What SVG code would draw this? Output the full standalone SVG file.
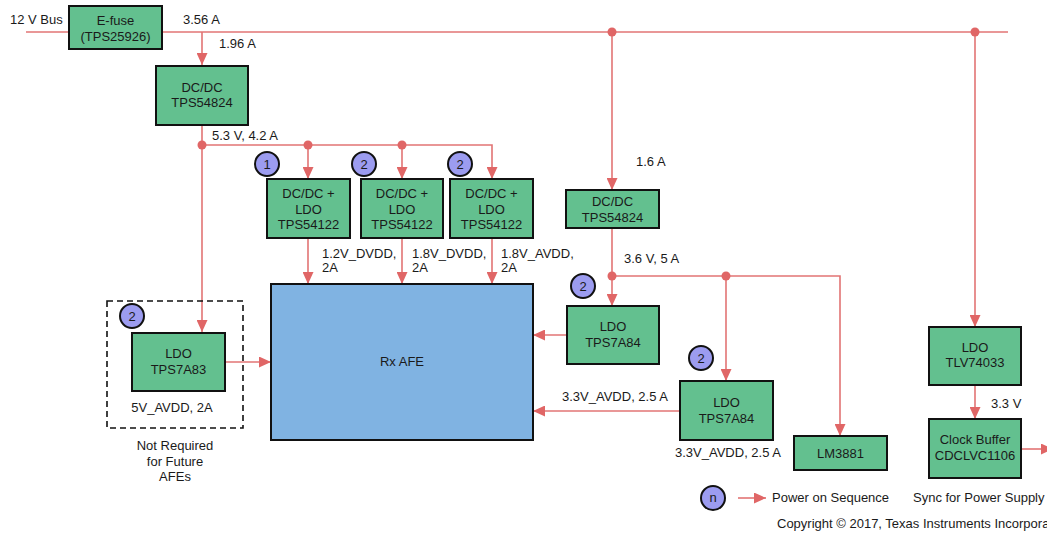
<svg xmlns="http://www.w3.org/2000/svg" width="1047" height="533" viewBox="0 0 1047 533">
<defs>
<marker id="ah" viewBox="0 0 12 11" refX="12" refY="5.5" markerWidth="12" markerHeight="11" markerUnits="userSpaceOnUse" orient="auto">
<path d="M0,0 L12,5.5 L0,11 z" fill="#E06666"/>
</marker>
<style>
.t{font-family:"Liberation Sans",Arial,sans-serif;font-size:13px;fill:#1a1a1a}
.c{text-anchor:middle}
.box{fill:#63C08F;stroke:#111;stroke-width:2}
.afe{fill:#80B3E2;stroke:#111;stroke-width:2}
.seq{fill:#9C9CF0;stroke:#111;stroke-width:2}
.ln{fill:none;stroke:#E27474;stroke-width:1.6}
.ar{marker-end:url(#ah)}
.dot{fill:#E06666}
</style>
</defs>
<rect width="1047" height="533" fill="#fff"/>

<g id="connectors">
<path class="ln" d="M26,32 H1008"/>
<path class="ln ar" d="M202,32 V65"/>
<path class="ln ar" d="M202,125 V332"/>
<path class="ln ar" d="M202,145 H492 V179"/>
<path class="ln ar" d="M308,145 V179"/>
<path class="ln ar" d="M402,145 V179"/>
<path class="ln ar" d="M308,238 V284"/>
<path class="ln ar" d="M402,238 V284"/>
<path class="ln ar" d="M492,238 V284"/>
<path class="ln ar" d="M225,362 H271"/>
<path class="ln ar" d="M612,32 V190"/>
<path class="ln ar" d="M612,228 V306"/>
<path class="ln ar" d="M612,276 H840 V436"/>
<path class="ln ar" d="M726,276 V381"/>
<path class="ln ar" d="M567,335 H533"/>
<path class="ln ar" d="M680,411 H533"/>
<path class="ln ar" d="M975,32 V327"/>
<path class="ln ar" d="M975,385 V419"/>
<path class="ln ar" d="M1021,449 H1053"/>
<circle class="dot" cx="202" cy="145" r="4.5"/>
<circle class="dot" cx="308" cy="145" r="4.5"/>
<circle class="dot" cx="402" cy="145" r="4.5"/>
<circle class="dot" cx="612" cy="32" r="4.5"/>
<circle class="dot" cx="975" cy="32" r="4.5"/>
<circle class="dot" cx="612" cy="276" r="4.5"/>
<circle class="dot" cx="726" cy="276" r="4.5"/>
</g>

<g id="labels">
<text class="t" x="10" y="24">12 V Bus</text>
<text class="t" x="183" y="24">3.56 A</text>
<text class="t" x="219" y="48">1.96 A</text>
<text class="t" x="212" y="140">5.3 V, 4.2 A</text>
<text class="t" x="322" y="258">1.2V_DVDD,</text>
<text class="t" x="322" y="272">2A</text>
<text class="t" x="412" y="258">1.8V_DVDD,</text>
<text class="t" x="412" y="272">2A</text>
<text class="t" x="501" y="258">1.8V_AVDD,</text>
<text class="t" x="501" y="272">2A</text>
<text class="t" x="636" y="166">1.6 A</text>
<text class="t" x="624" y="263">3.6 V, 5 A</text>
<text class="t" x="562" y="401">3.3V_AVDD, 2.5 A</text>
<text class="t" x="675" y="457">3.3V_AVDD, 2.5 A</text>
<text class="t" x="991" y="408">3.3 V</text>
<text class="t" x="913" y="502">Sync for Power Supply</text>
<text class="t c" x="172" y="412">5V_AVDD, 2A</text>
<text class="t c" x="175" y="450">Not Required</text>
<text class="t c" x="175" y="466">for Future</text>
<text class="t c" x="175" y="481">AFEs</text>
<text class="t" x="777" y="528">Copyright © 2017, Texas Instruments Incorporated</text>
</g>

<g id="efuse">
<rect class="box" x="69" y="6" width="93" height="43"/>
<text class="t c" x="115.5" y="24.5">E-fuse</text>
<text class="t c" x="115.5" y="40.5">(TPS25926)</text>
</g>

<g id="dcdc1">
<rect class="box" x="156" y="66" width="92" height="59"/>
<text class="t c" x="202" y="92">DC/DC</text>
<text class="t c" x="202" y="107">TPS54824</text>
</g>

<g id="dcdcldo1">
<rect class="box" x="267" y="179" width="83" height="59"/>
<text class="t c" x="308.5" y="198">DC/DC +</text>
<text class="t c" x="308.5" y="214">LDO</text>
<text class="t c" x="308.5" y="229">TPS54122</text>
</g>
<g id="dcdcldo2">
<rect class="box" x="361" y="179" width="82" height="59"/>
<text class="t c" x="402" y="198">DC/DC +</text>
<text class="t c" x="402" y="214">LDO</text>
<text class="t c" x="402" y="229">TPS54122</text>
</g>
<g id="dcdcldo3">
<rect class="box" x="450" y="179" width="83" height="59"/>
<text class="t c" x="491.5" y="198">DC/DC +</text>
<text class="t c" x="491.5" y="214">LDO</text>
<text class="t c" x="491.5" y="229">TPS54122</text>
</g>

<g id="seq1"><circle class="seq" cx="267" cy="164" r="12"/><text class="t c" x="267" y="168.5">1</text></g>
<g id="seq2"><circle class="seq" cx="364" cy="164" r="12"/><text class="t c" x="364" y="168.5">2</text></g>
<g id="seq3"><circle class="seq" cx="460" cy="164" r="12"/><text class="t c" x="460" y="168.5">2</text></g>

<g id="rxafe">
<rect class="afe" x="271" y="284" width="262" height="156"/>
<text class="t c" x="402" y="366">Rx AFE</text>
</g>

<g id="optional">
<rect x="107" y="301" width="136" height="127" fill="none" stroke="#111" stroke-width="1.6" stroke-dasharray="6,4"/>
</g>
<g id="seq4"><circle class="seq" cx="132" cy="316" r="12"/><text class="t c" x="132" y="320.5">2</text></g>
<g id="ldo7a83">
<rect class="box" x="132" y="333" width="93" height="58"/>
<text class="t c" x="178.5" y="358">LDO</text>
<text class="t c" x="178.5" y="374">TPS7A83</text>
</g>

<g id="dcdc2">
<rect class="box" x="566" y="190" width="93" height="38"/>
<text class="t c" x="612.5" y="206">DC/DC</text>
<text class="t c" x="612.5" y="222">TPS54824</text>
</g>

<g id="seq5"><circle class="seq" cx="583" cy="286" r="12"/><text class="t c" x="583" y="290.5">2</text></g>
<g id="ldo7a84a">
<rect class="box" x="567" y="306" width="92" height="58"/>
<text class="t c" x="613" y="331">LDO</text>
<text class="t c" x="613" y="347">TPS7A84</text>
</g>

<g id="seq6"><circle class="seq" cx="701" cy="358" r="12"/><text class="t c" x="701" y="362.5">2</text></g>
<g id="ldo7a84b">
<rect class="box" x="680" y="381" width="93" height="59"/>
<text class="t c" x="726.5" y="407">LDO</text>
<text class="t c" x="726.5" y="423">TPS7A84</text>
</g>

<g id="lm3881">
<rect class="box" x="794" y="436" width="93" height="34"/>
<text class="t c" x="840.5" y="458">LM3881</text>
</g>

<g id="tlv74033">
<rect class="box" x="929" y="327" width="92" height="58"/>
<text class="t c" x="975" y="352">LDO</text>
<text class="t c" x="975" y="367">TLV74033</text>
</g>

<g id="clockbuffer">
<rect class="box" x="929" y="419" width="92" height="59"/>
<text class="t c" x="975" y="444">Clock Buffer</text>
<text class="t c" x="975" y="460">CDCLVC1106</text>
</g>

<g id="legend">
<circle class="seq" cx="713" cy="498" r="12"/>
<text class="t c" x="713" y="502">n</text>
<path class="ln ar" d="M738,498 H766"/>
<text class="t" x="772" y="502">Power on Sequence</text>
</g>
</svg>
